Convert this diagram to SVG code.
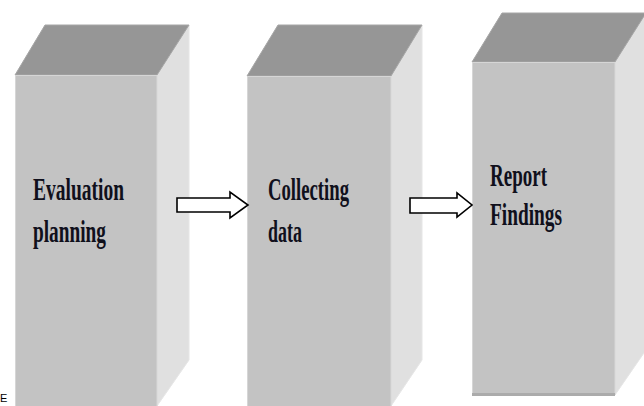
<svg xmlns="http://www.w3.org/2000/svg" width="644" height="406" viewBox="0 0 644 406">
<style>
.top{fill:#969696;stroke:#a6a6a6;stroke-width:1}
.front{fill:#c3c3c3;stroke:#d6d6d6;stroke-width:1}
.side{fill:#e0e0e0;stroke:#e6e6e6;stroke-width:1}
.lbl{font-family:"Liberation Serif","Times New Roman",serif;font-weight:bold;font-size:31px;fill:#10101c}
.arrow{fill:#ffffff;stroke:#000000;stroke-width:1.6;stroke-linejoin:miter}
</style>
<rect width="644" height="406" fill="#ffffff"/>
<g id="node-evaluation">
<polygon class="side" points="157,75 189,25 189,360 157,406"/>
<polygon class="top" points="45,25 189,25 157,75 15,75"/>
<rect class="front" x="15.5" y="75.5" width="141.5" height="332"/>
<text class="lbl" x="33" y="200" textLength="91" lengthAdjust="spacingAndGlyphs">Evaluation</text>
<text class="lbl" x="33" y="242" textLength="73" lengthAdjust="spacingAndGlyphs">planning</text>
</g>
<g id="node-collecting">
<polygon class="side" points="391,76 422,25 422,360 391,406"/>
<polygon class="top" points="278,25 422,25 391,76 247,76"/>
<rect class="front" x="247.5" y="76.5" width="143.5" height="331"/>
<text class="lbl" x="268" y="200" textLength="81" lengthAdjust="spacingAndGlyphs">Collecting</text>
<text class="lbl" x="268" y="242" textLength="34" lengthAdjust="spacingAndGlyphs">data</text>
</g>
<g id="node-report">
<polygon class="side" points="615,62 646,13 646,350 615,395"/>
<polygon class="top" points="502,13 646,13 615,62 472,62"/>
<rect class="front" x="472.5" y="62.5" width="142.5" height="332"/>
<rect x="472" y="393" width="143" height="3" fill="#ababab"/>
<text class="lbl" x="490" y="186" textLength="57" lengthAdjust="spacingAndGlyphs">Report</text>
<text class="lbl" x="490" y="225" textLength="72" lengthAdjust="spacingAndGlyphs">Findings</text>
</g>
<g id="connectors">
<polygon class="arrow" points="177,198 230,198 230,192 248,205 230,218 230,212 177,212"/>
<polygon class="arrow" points="410,198 457,198 457,193 472,205 457,217 457,213 410,213"/>
</g>
<text x="0" y="402" font-family="Liberation Sans, Arial, sans-serif" font-size="11" fill="#000000">E</text>
</svg>
